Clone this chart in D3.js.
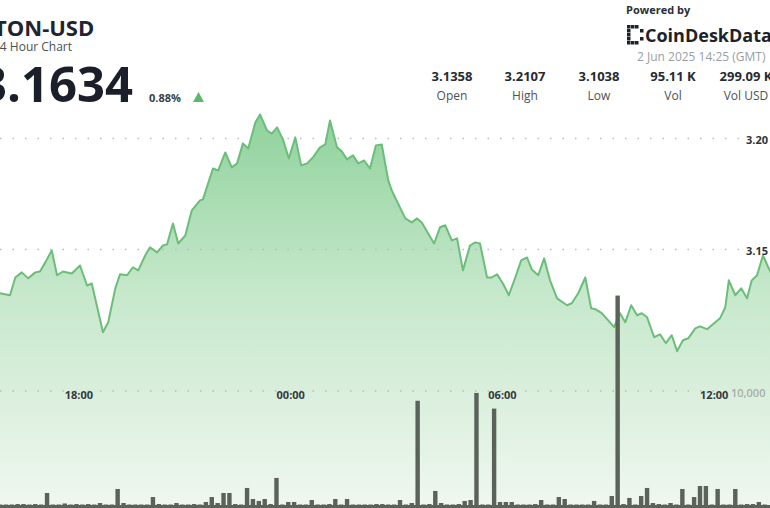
<!DOCTYPE html>
<html><head><meta charset="utf-8">
<script src="https://cdn.jsdelivr.net/npm/d3@7"></script>
<style>body{margin:0;background:#fff;overflow:hidden}svg{display:block;font-family:"Open Sans",sans-serif}</style>
</head><body><svg id="c" width="770" height="508"></svg>
<script>
// minutes since 15:39 (1 Jun 2025) and price
const priceMinutes=[0,17,26,37,48,60,68,77,88,97,107,122,136,148,156,175,184,196,204,216,226,235,247,255,267,277,284,294,303,315,326,340,345,362,371,383,394,403,413,422,434,442,454,462,471,481,491,502,512,522,532,544,553,561,573,581,590,600,609,619,629,639,649,660,666,689,700,709,717,738,748,757,768,777,787,799,808,816,828,836,845,855,865,876,886,896,904,915,925,935,947,964,972,983,995,1005,1012,1023,1034,1044,1054,1063,1073,1083,1091,1100,1112,1122,1132,1142,1151,1161,1170,1182,1190,1202,1212,1224,1233,1239,1250,1260,1270,1278,1287,1297,1306,1318];
const prices=[3.1303,3.1294,3.1374,3.1397,3.1370,3.1397,3.1401,3.1442,3.1496,3.1384,3.1401,3.1392,3.1428,3.1338,3.1347,3.1127,3.1172,3.1325,3.1388,3.1384,3.1420,3.1406,3.1474,3.1510,3.1487,3.1518,3.1523,3.1617,3.1527,3.1563,3.1676,3.1721,3.1726,3.1865,3.1856,3.1937,3.1870,3.1888,3.1978,3.1955,3.2072,3.2108,3.2036,3.2022,3.2050,3.1996,3.1910,3.2005,3.1879,3.1888,3.1915,3.1960,3.1973,3.2081,3.1960,3.1942,3.1906,3.1924,3.1888,3.1901,3.1865,3.1969,3.1973,3.1811,3.1766,3.1640,3.1622,3.1640,3.1622,3.1527,3.1600,3.1609,3.1541,3.1550,3.1406,3.1518,3.1532,3.1527,3.1374,3.1374,3.1388,3.1347,3.1294,3.1374,3.1451,3.1464,3.1410,3.1384,3.1460,3.1361,3.1280,3.1249,3.1258,3.1303,3.1374,3.1235,3.1231,3.1213,3.1181,3.1150,3.1213,3.1172,3.1249,3.1204,3.1213,3.1195,3.1105,3.1118,3.1078,3.1114,3.1042,3.1091,3.1100,3.1145,3.1154,3.1141,3.1163,3.1190,3.1240,3.1361,3.1294,3.1325,3.1280,3.1361,3.1384,3.1474,3.1420,3.1361];
// volume per 10-minute bin starting 15:39
const volumes=[130,130,130,170,170,130,170,130,1130,130,130,220,130,170,130,170,130,260,130,130,1480,260,130,130,130,130,780,170,130,130,260,130,130,170,130,350,780,260,1130,1130,170,130,1570,610,440,610,170,2440,130,350,350,130,130,520,130,130,170,610,130,610,130,130,130,130,170,170,130,130,520,130,260,9150,130,170,1310,260,130,130,170,440,520,9830,130,130,8470,350,350,350,130,130,130,170,520,130,130,780,610,130,130,130,130,440,130,130,870,18300,170,700,130,870,1570,260,170,130,260,130,1480,130,780,1740,1740,130,1480,130,130,1480,130,170,170,350,130];
const timeTicks=["18:00","00:00","06:00","12:00"];
const priceTicks=[3.20,3.15];
const volTicks=[10000];
const statValues=["3.1358","3.2107","3.1038","95.11 K","299.09 K"];
const statLabels=["Open","High","Low","Vol","Vol USD"];

const svg=d3.select("#c");
const t0=new Date(2025,5,1,15,39);
const dt=m=>new Date(t0.getTime()+m*60000);
const x=d3.scaleTime().domain([t0,dt(1309)]).range([0,770]);
const y=d3.scaleLinear().domain([3.10,3.25]).range([360.5,27.5]);
const yv=d3.scaleLinear().domain([0,10000]).range([506,391]);

const defs=svg.append("defs");
const g=defs.append("linearGradient").attr("id","ag").attr("x1",0).attr("y1",0).attr("x2",0).attr("y2",1);
g.append("stop").attr("offset","0%").attr("stop-color","#8fd29c");
g.append("stop").attr("offset","45%").attr("stop-color","#c6e8cb");
g.append("stop").attr("offset","100%").attr("stop-color","#f0f7f0");

const pts=priceMinutes.map((m,i)=>({t:dt(m),p:prices[i]}));
svg.append("path").datum(pts).attr("fill","url(#ag)")
  .attr("d",d3.area().x(d=>x(d.t)).y0(508).y1(d=>y(d.p)));

priceTicks.forEach(v=>svg.append("line").attr("x1",0).attr("x2",740).attr("y1",y(v)).attr("y2",y(v))
  .attr("stroke","#b9bcb9").attr("stroke-dasharray","1.5,11").attr("stroke-width",1.5));
volTicks.forEach(v=>svg.append("line").attr("x1",0).attr("x2",728).attr("y1",yv(v)).attr("y2",yv(v))
  .attr("stroke","#b9bcb9").attr("stroke-dasharray","1.5,11").attr("stroke-width",1.5));

svg.append("path").datum(pts).attr("fill","none").attr("stroke","#6dbd7a").attr("stroke-width",2)
  .attr("stroke-linejoin","round").attr("d",d3.line().x(d=>x(d.t)).y(d=>y(d.p)));

svg.append("g").selectAll("rect").data(volumes).join("rect")
  .attr("x",(d,i)=>x(dt(i*10))-2.2).attr("width",4.4)
  .attr("y",d=>yv(d)).attr("height",d=>506-yv(d)).attr("fill","#5b6259");
svg.append("rect").attr("x",0).attr("y",505).attr("width",770).attr("height",3).attr("fill","#5b6259");

const tickTimes=[dt(141),dt(501),dt(861),dt(1221)];
timeTicks.forEach((s,i)=>svg.append("text").attr("x",x(tickTimes[i])-4).attr("y",399).attr("text-anchor","middle")
  .attr("font-size",11).attr("font-weight",700).attr("fill","#333a40").text(s));
priceTicks.forEach(v=>svg.append("text").attr("x",746).attr("y",y(v)+5).attr("font-size",11).attr("font-weight",700)
  .attr("fill","#2d3338").text(v.toFixed(2)));
volTicks.forEach(v=>svg.append("text").attr("x",731).attr("y",yv(v)+6).attr("font-size",11).attr("font-weight",600)
  .attr("fill","#a9adaa").text(d3.format(",")(v)));

svg.append("text").attr("x",-6).attr("y",36).attr("font-size",22).attr("font-weight",700).attr("fill","#1f2530").text("TON-USD");
svg.append("text").attr("x",-7).attr("y",51).attr("font-size",12).attr("fill","#4a4f55").text("24 Hour Chart");
svg.append("text").attr("x",-21).attr("y",102).attr("font-size",49).attr("font-weight",700).attr("fill","#1a1f2a").text("3.1634");
svg.append("text").attr("x",149).attr("y",102).attr("font-size",11).attr("font-weight",700).attr("fill","#3a3f45").text("0.88%");
svg.append("path").attr("d","M193,102L198.5,92L204,102Z").attr("fill","#5cb86e");

svg.append("text").attr("x",626).attr("y",14).attr("font-size",11).attr("font-weight",700).attr("fill","#2a2f35").text("Powered by");
const lg=svg.append("g").attr("fill","#1d2228");
[[627,25],[627,29],[627,33],[627,37],[627,41],[631,25],[635,25],[631,41],[635,41],[640,29],[640,37]].forEach(p=>lg.append("rect").attr("x",p[0]).attr("y",p[1]).attr("width",3.5).attr("height",3.5));
svg.append("text").attr("x",645).attr("y",42).attr("font-size",18).attr("font-weight",700).attr("fill","#1d2228").text("CoinDeskData");
svg.append("text").attr("x",637).attr("y",61).attr("font-size",12).attr("fill","#9a9ea2").text("2 Jun 2025 14:25 (GMT)");
const sx=[452,525,599,673,746];
statValues.forEach((s,i)=>{
  svg.append("text").attr("x",sx[i]).attr("y",81).attr("text-anchor","middle").attr("font-size",13).attr("font-weight",700).attr("fill","#262b31").text(s);
  svg.append("text").attr("x",sx[i]).attr("y",100).attr("text-anchor","middle").attr("font-size",12).attr("fill","#4d5257").text(statLabels[i]);
});
</script></body></html>
